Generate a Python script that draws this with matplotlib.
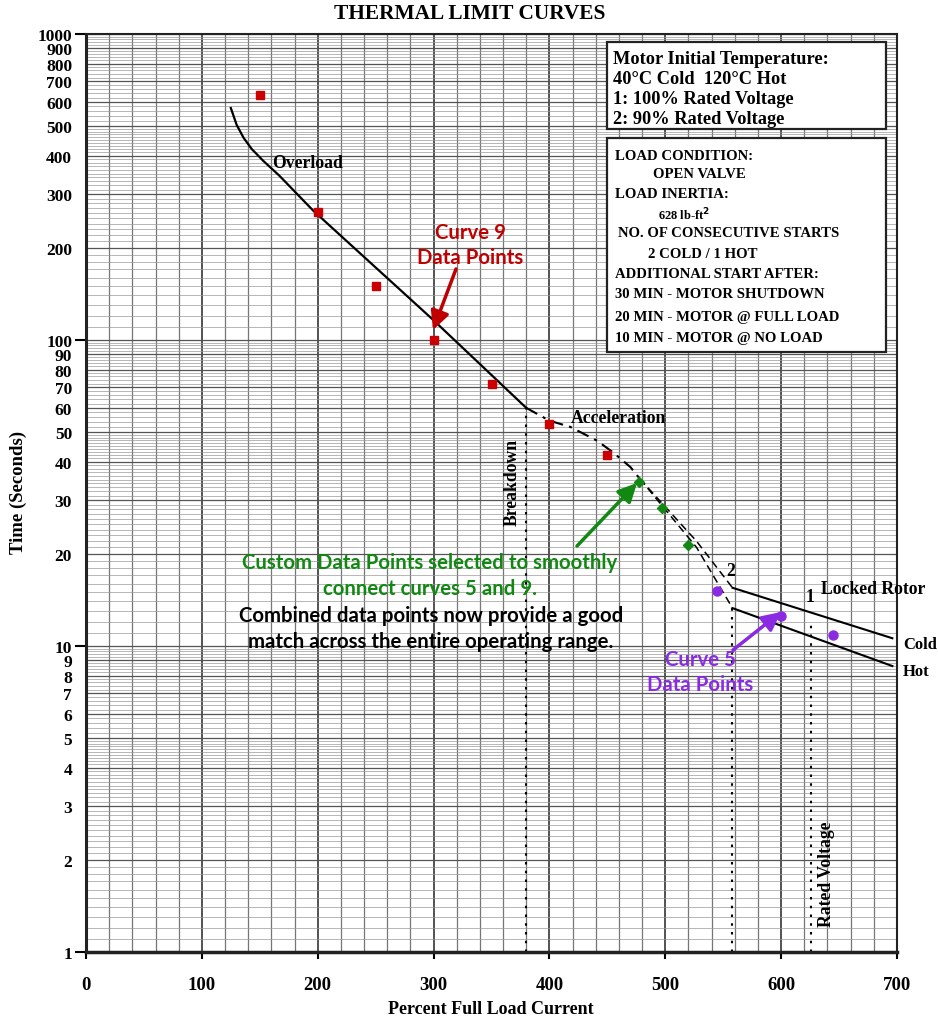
import numpy as np
import matplotlib
matplotlib.use("Agg")
import matplotlib.pyplot as plt
from matplotlib.patches import Rectangle, FancyArrowPatch
from matplotlib.ticker import FixedLocator, NullFormatter

# ---------------- data ----------------
overload_x = [125, 130, 136, 143, 153, 167, 196, 280, 300, 380]
overload_y = [573, 505, 458, 421, 385, 344, 265, 136, 116, 60]

accel_x = [380, 400, 418, 441, 455, 470, 478]
accel_y = [60, 54.5, 52.0, 46.9, 42.9, 38.4, 35.2]

split_upper_x = [478, 527, 558]
split_upper_y = [35.2, 22.0, 15.5]
split_lower_x = [478, 527, 558]
split_lower_y = [35.2, 21.0, 13.3]

locked_cold_x = [558, 696]
locked_cold_y = [15.5, 10.6]
locked_hot_x = [558, 696]
locked_hot_y = [13.3, 8.6]

breakdown_x = 380
breakdown_top = 60
lr2_x = 558
lr2_top = 13.3
rated_x = 626
rated_top = 12.1

curve9_x = [150, 200, 250, 300, 350, 400, 450]
curve9_y = [630, 262, 150, 100, 72, 53, 42]

custom_x = [477, 497, 520]
custom_y = [34.4, 28.3, 21.4]

curve5_x = [545, 600, 645]
curve5_y = [15.1, 12.5, 10.9]

x_ticks = [0, 100, 200, 300, 400, 500, 600, 700]
y_ticks = [1, 2, 3, 4, 5, 6, 7, 8, 9, 10, 20, 30, 40, 50, 60, 70, 80, 90,
           100, 200, 300, 400, 500, 600, 700, 800, 900, 1000]
y_decades = [1, 10, 100, 1000]

# ---------------- figure ----------------
W, H = 938, 1020
fig = plt.figure(figsize=(W / 100, H / 100), dpi=100)
L, R, T, B = 86, 897, 35, 953
ax = fig.add_axes([L / W, 1 - B / H, (R - L) / W, (B - T) / H])
ax.set_yscale("log")
ax.set_xlim(0, 700)
ax.set_ylim(1, 1000)

SERIF = ["Liberation Serif", "DejaVu Serif"]
SANS = ["Lato", "DejaVu Sans"]

# grid
minor_y = []
for d in [1, 10, 100]:
    for v in np.arange(1.0, 5.0, 0.1):
        minor_y.append(v * d)
    for v in np.arange(5.0, 10.0, 0.2):
        minor_y.append(v * d)
ax.yaxis.set_major_locator(FixedLocator(y_ticks))
ax.yaxis.set_minor_locator(FixedLocator(minor_y))
ax.yaxis.set_minor_formatter(NullFormatter())
ax.set_yticklabels([str(v) for v in y_ticks])
ax.xaxis.set_major_locator(FixedLocator(x_ticks))
ax.xaxis.set_minor_locator(FixedLocator(list(range(0, 701, 20))))

ax.grid(which="minor", axis="y", color="#9a9a9a", lw=0.5)
ax.grid(which="major", axis="y", color="#555555", lw=0.9)
ax.grid(which="minor", axis="x", color="#777777", lw=0.9)
ax.grid(which="major", axis="x", color="#444444", lw=1.3)
ax.set_axisbelow(True)

ax.tick_params(axis="y", which="major", length=0, pad=10, labelsize=12.5)
ax.tick_params(axis="y", which="minor", length=0)
ax.tick_params(axis="x", which="major", length=5, width=1.5, pad=12, labelsize=13.5)
ax.tick_params(axis="x", which="minor", length=0)
for tick, val in zip(ax.yaxis.get_major_ticks(), y_ticks):
    tick.tick1line.set_markersize(8 if val in y_decades else 0)
    tick.tick1line.set_markeredgewidth(1.5)

for lab in ax.get_xticklabels() + ax.get_yticklabels():
    lab.set_fontfamily(SERIF)
    lab.set_fontweight("bold")

ax.spines["left"].set_linewidth(2.2)
ax.spines["bottom"].set_linewidth(2.5)
ax.spines["top"].set_linewidth(1.5)
ax.spines["right"].set_linewidth(1.5)
for s in ax.spines.values():
    s.set_color("#222222")

# curves
ax.plot(overload_x, overload_y, color="black", lw=1.6)
ax.plot(accel_x, accel_y, color="black", lw=1.5, ls=(0, (6, 3, 1.5, 3)))
ax.plot(split_upper_x, split_upper_y, color="black", lw=1.1, ls=(0, (5, 3)))
ax.plot(split_lower_x, split_lower_y, color="black", lw=1.1, ls=(0, (5, 3)))
ax.plot(locked_cold_x, locked_cold_y, color="black", lw=1.5)
ax.plot(locked_hot_x, locked_hot_y, color="black", lw=1.5)
for vx, vt in [(breakdown_x, breakdown_top), (lr2_x, lr2_top), (rated_x, rated_top)]:
    ax.plot([vx, vx], [1, vt], color="black", lw=1.5, ls=(0, (1.2, 3)))

# data points
ax.plot(curve9_x, curve9_y, ls="none", marker="s", ms=5.5, color="#cc0000")
ax.plot(custom_x, custom_y, ls="none", marker="D", ms=5.5, color="#118811")
ax.plot(curve5_x, curve5_y, ls="none", marker="o", ms=6.5, color="#8a2be2")


def fp(x, y):
    return (x / W, 1 - y / H)


# title and axis labels
fig.text(*fp(470, 14), "THERMAL LIMIT CURVES", ha="center", va="center",
         fontsize=15.4, fontweight="bold", family=SERIF)
fig.text(*fp(18, 492), "Time (Seconds)", ha="center", va="center", rotation=90,
         fontsize=13.5, fontweight="bold", family=SERIF)
fig.text(*fp(491, 1010), "Percent Full Load Current", ha="center", va="center",
         fontsize=13, fontweight="bold", family=SERIF)

# chart labels
lab_kw = dict(fontsize=12.7, fontweight="bold", family=SERIF, va="center")
fig.text(*fp(272, 164), "Overload", ha="left", **lab_kw)
fig.text(*fp(571, 419), "Acceleration", ha="left", **lab_kw)
fig.text(*fp(512, 482), "Breakdown", ha="center", rotation=90, **lab_kw)
fig.text(*fp(826, 874), "Rated Voltage", ha="center", rotation=90, **lab_kw)
fig.text(*fp(821, 590), "Locked Rotor", ha="left", **lab_kw)
fig.text(*fp(810, 598), "1", ha="center", **lab_kw)
fig.text(*fp(731, 572), "2", ha="center", **lab_kw)
end_kw = dict(lab_kw, fontsize=12)
fig.text(*fp(903, 645), "Cold", ha="left", **end_kw)
fig.text(*fp(903, 672), "Hot", ha="left", **end_kw)

# info boxes
for (x0, y0, x1, y1) in [(607, 43, 886, 130), (607, 139, 886, 353)]:
    fig.patches.append(Rectangle(fp(x0, y1), (x1 - x0) / W, (y1 - y0) / H,
                                 transform=fig.transFigure, facecolor="white",
                                 edgecolor="#222222", lw=1.6, zorder=5))

box1 = [("Motor Initial Temperature:", 613, 60),
        ("40°C Cold  120°C Hot", 613, 80),
        ("1: 100% Rated Voltage", 613, 100),
        ("2: 90% Rated Voltage", 613, 120)]
for s, x, y in box1:
    fig.text(*fp(x, y), s, ha="left", va="center", fontsize=13.2,
             fontweight="bold", family=SERIF, zorder=6)

box2 = [("LOAD CONDITION:", 615, 157),
        ("OPEN VALVE", 653, 175),
        ("LOAD INERTIA:", 615, 195),
        ("NO. OF CONSECUTIVE STARTS", 618, 234),
        ("2 COLD / 1 HOT", 648, 254),
        ("ADDITIONAL START AFTER:", 615, 275),
        ("30 MIN - MOTOR SHUTDOWN", 615, 295),
        ("20 MIN - MOTOR @ FULL LOAD", 615, 317),
        ("10 MIN - MOTOR @ NO LOAD", 615, 339)]
for s, x, y in box2:
    fig.text(*fp(x, y), s, ha="left", va="center", fontsize=10.6,
             fontweight="bold", family=SERIF, zorder=6)
fig.text(*fp(658, 215), "628 lb-ft$^\\mathbf{2}$", ha="left", va="center", fontsize=9,
         fontweight="bold", family=SERIF, zorder=6)

# annotations
ann_kw = dict(fontsize=14.7, fontweight="bold", family=SANS, ha="center", va="center")
fig.text(*fp(470, 233), "Curve 9", color="#c00000", **ann_kw)
fig.text(*fp(470, 258), "Data Points", color="#c00000", **ann_kw)
fig.text(*fp(430, 563), "Custom Data Points selected to smoothly", color="#118811", **ann_kw)
fig.text(*fp(430, 589), "connect curves 5 and 9.", color="#118811", **ann_kw)
fig.text(*fp(431, 616), "Combined data points now provide a good", color="black", **ann_kw)
fig.text(*fp(431, 642), "match across the entire operating range.", color="black", **ann_kw)
fig.text(*fp(700, 660), "Curve 5", color="#8a2be2", **ann_kw)
fig.text(*fp(700, 685), "Data Points", color="#8a2be2", **ann_kw)


def arrow(x0, y0, x1, y1, color):
    fig.add_artist(FancyArrowPatch(
        (x0, H - y0), (x1, H - y1), transform=None,
        arrowstyle="-|>", mutation_scale=28, lw=2.5, color=color,
        shrinkA=0, shrinkB=0))


arrow(456, 270, 433, 331, "#c00000")
arrow(577, 547, 637, 484, "#118811")
arrow(733, 651, 781, 613, "#8a2be2")

fig.savefig("out.png", dpi=100)
